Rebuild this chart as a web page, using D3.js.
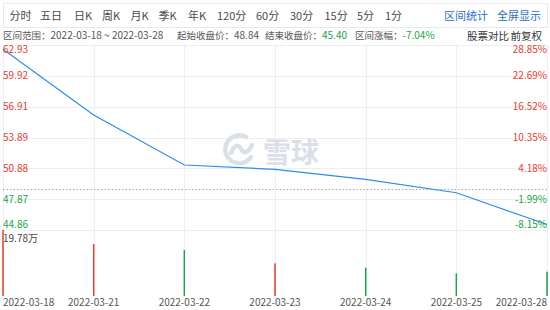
<!DOCTYPE html>
<html>
<head>
<meta charset="utf-8">
<script src="https://cdn.jsdelivr.net/npm/d3@7"></script>
<style>
	body { margin: 0; background: #fff; }
	svg { display: block; font-family: "Noto Sans CJK SC", "Noto Sans", sans-serif; }
</style>
</head>
<body>
<svg id="chart" width="550" height="310"></svg>
<script>
// Chart data.
var dates = ['2022-03-18', '2022-03-21', '2022-03-22', '2022-03-23', '2022-03-24', '2022-03-25', '2022-03-28'];
var closes = [62.51, 56.09, 51.21, 50.79, 49.81, 48.50, 45.40];
var volumes = [19.78, 15.58, 13.79, 9.8, 8.48, 6.8, 7.28]; // 万
var volumeUp = [true, true, false, true, false, false, false];
var priceTicks = [62.93, 59.92, 56.91, 53.89, 50.88, 47.87, 44.86];
var pctTicks = ['28.85%', '22.69%', '16.52%', '10.35%', '4.18%', '-1.99%', '-8.15%'];
var baseClose = 48.84;
var periods = ['分时', '五日', '日K', '周K', '月K', '季K', '年K', '120分', '60分', '30分', '15分', '5分', '1分'];
var periodX = [9.5, 40, 74, 102, 130.5, 158.5, 188, 217, 256, 290, 324.5, 357, 385];

var red = '#e5412d', green = '#1aa34a', gridColor = '#eceef2';
var svg = d3.select('#chart');

// Toolbar.
svg.append('rect')
	.attr('x', 3.5).attr('y', 3.5).attr('width', 544).attr('height', 24)
	.attr('fill', '#fff').attr('stroke', '#e9eaee');
svg.selectAll('.period').data(periods).enter().append('text')
	.attr('x', function(d, i) { return periodX[i]; })
	.attr('y', 19.5)
	.attr('font-size', 11).attr('fill', '#4a4a4a')
	.text(function(d) { return d; });
svg.append('text').attr('x', 444).attr('y', 19.5).attr('font-size', 11)
	.attr('fill', '#2f6fc6').text('区间统计');
svg.append('text').attr('x', 497).attr('y', 19.5).attr('font-size', 11)
	.attr('fill', '#2f6fc6').text('全屏显示');

// Info row. Labels are set a little smaller so the values follow them without overlap.
var last = closes[closes.length - 1];
var info = svg.append('text').attr('y', 39).attr('font-size', 10).attr('fill', '#555');
info.append('tspan').attr('x', 3).attr('font-size', 9.5).text('区间范围：');
info.append('tspan').text(dates[0] + ' ~ ' + dates[dates.length - 1]);
info.append('tspan').attr('x', 177).attr('font-size', 9.5).text('起始收盘价：');
info.append('tspan').text(baseClose.toFixed(2));
info.append('tspan').attr('x', 265).attr('font-size', 9.5).text('结束收盘价：');
info.append('tspan').attr('fill', green).text(last.toFixed(2));
info.append('tspan').attr('x', 355).attr('font-size', 9.5).text('区间涨幅：');
info.append('tspan').attr('fill', green)
	.text(((last / baseClose - 1) * 100).toFixed(2) + '%');
svg.append('text').attr('x', 467).attr('y', 39.5).attr('font-size', 10.5).attr('fill', '#333')
	.text('股票对比');
svg.append('text').attr('x', 542).attr('y', 39.5).attr('font-size', 10.5).attr('fill', '#333')
	.attr('text-anchor', 'end').text('前复权');

// Scales.
var x = d3.scalePoint().domain(dates).range([3, 547]);
var y = d3.scaleLinear().domain([priceTicks[priceTicks.length - 1], priceTicks[0]]).range([230, 45]);
var yVol = d3.scaleLinear().domain([0, volumes[0]]).range([296, 230]);

// Grid.
svg.append('g').selectAll('line').data(priceTicks).enter().append('line')
	.attr('x1', 3).attr('x2', 547)
	.attr('y1', function(d) { return Math.round(y(d)) + 0.5; })
	.attr('y2', function(d) { return Math.round(y(d)) + 0.5; })
	.attr('stroke', gridColor);
svg.append('g').selectAll('line').data(dates).enter().append('line')
	.attr('x1', function(d) { return Math.round(x(d)) + 0.5; })
	.attr('x2', function(d) { return Math.round(x(d)) + 0.5; })
	.attr('y1', 45).attr('y2', 296)
	.attr('stroke', gridColor);

// Watermark (雪球 logo).
var wm = svg.append('g').attr('fill', 'none').attr('stroke', '#dbe0e8').attr('stroke-width', 4.5)
	.attr('stroke-linecap', 'round');
wm.append('path').attr('d', 'M246,137 A14,14 0 1,0 251,157');
wm.append('path').attr('d', 'M231,153 Q236,141 241,149 Q246,157 252,145');
svg.append('text').attr('x', 263).attr('y', 163).attr('font-size', 28).attr('font-weight', 'bold')
	.attr('fill', '#dbe0e8').text('雪球');

// Baseline (start close).
svg.append('line')
	.attr('x1', 3).attr('x2', 547)
	.attr('y1', Math.round(y(baseClose)) + 0.5).attr('y2', Math.round(y(baseClose)) + 0.5)
	.attr('stroke', '#a8a8a8').attr('stroke-dasharray', '1.5,2');

// Price line.
svg.append('path').datum(closes)
	.attr('fill', 'none').attr('stroke', '#2a8cf2').attr('stroke-width', 1.2)
	.attr('d', d3.line()
		.x(function(d, i) { return x(dates[i]); })
		.y(function(d) { return y(d); }));

// Volume bars.
svg.append('g').selectAll('rect').data(volumes).enter().append('rect')
	.attr('x', function(d, i) { return x(dates[i]) - 0.75; })
	.attr('width', 1.5)
	.attr('y', function(d) { return yVol(d); })
	.attr('height', function(d) { return 296 - yVol(d); })
	.attr('fill', function(d, i) { return volumeUp[i] ? red : green; });

// Axis labels.
var n = priceTicks.length;
function labelY(i) {
	var base = y(priceTicks[i]);
	if (i === 0) return base + 8;
	if (i === n - 1) return base - 2.5;
	return base + 3.5;
}
svg.append('g').selectAll('text').data(priceTicks).enter().append('text')
	.attr('x', 3).attr('y', function(d, i) { return labelY(i); })
	.attr('font-size', 10)
	.attr('fill', function(d) { return d >= baseClose ? red : green; })
	.text(function(d) { return d.toFixed(2); });
svg.append('g').selectAll('text').data(pctTicks).enter().append('text')
	.attr('x', 547).attr('y', function(d, i) { return labelY(i); })
	.attr('font-size', 10).attr('text-anchor', 'end')
	.attr('fill', function(d, i) { return priceTicks[i] >= baseClose ? red : green; })
	.text(function(d) { return d; });
svg.append('text').attr('x', 3).attr('y', 242).attr('font-size', 10).attr('fill', '#444')
	.text(volumes[0] + '万');

// Date labels.
svg.append('g').selectAll('text').data(dates).enter().append('text')
	.attr('x', function(d) { return x(d); })
	.attr('y', 306)
	.attr('font-size', 10).attr('fill', '#555')
	.attr('text-anchor', function(d, i) { return i === 0 ? 'start' : (i === dates.length - 1 ? 'end' : 'middle'); })
	.text(function(d) { return d; });
</script>
</body>
</html>
